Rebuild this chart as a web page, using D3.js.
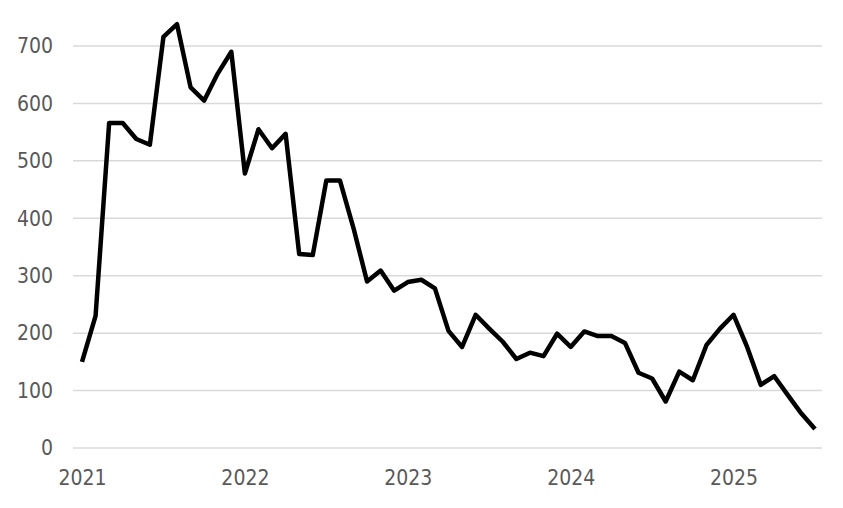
<!DOCTYPE html>
<html>
<head>
<meta charset="utf-8">
<script src="https://cdn.jsdelivr.net/npm/d3@7"></script>
<style>
  body { margin: 0; background: #fff; }
  svg text { font-family: "DejaVu Sans Condensed", "DejaVu Sans", sans-serif; fill: #595959; }
</style>
</head>
<body>
<svg id="chart" width="843" height="508"></svg>
<script>
// monthly values, Jan 2021 .. Jul 2025
const values2021 = [150, 230, 566, 566, 538, 528, 716, 738, 628, 605, 652, 690];
const values2022 = [478, 555, 522, 547, 338, 336, 466, 466, 383, 290, 309, 274];
const values2023 = [289, 293, 278, 204, 176, 232, 208, 185, 155, 166, 160, 199];
const values2024 = [176, 203, 195, 195, 183, 131, 121, 81, 133, 118, 179, 208];
const values2025 = [232, 176, 110, 125, 92, 60, 33];
const yearLabels = ["2021", "2022", "2023", "2024", "2025"];
const yTicks = [0, 100, 200, 300, 400, 500, 600, 700];

const data = [...values2021, ...values2022, ...values2023, ...values2024, ...values2025]
  .map((v, i) => ({ i, v }));

const svg = d3.select("#chart");
const gridLeft = 73, gridRight = 822;

const x = d3.scaleLinear().domain([0, data.length - 1]).range([82, 815]);
const y = d3.scaleLinear().domain([0, 700]).range([448, 46]);

// gridlines
svg.append("g")
  .selectAll("line")
  .data(yTicks)
  .join("line")
  .attr("x1", gridLeft)
  .attr("x2", gridRight)
  .attr("y1", d => y(d))
  .attr("y2", d => y(d))
  .attr("stroke", "#d9d9d9")
  .attr("stroke-width", 1.5);

// y axis labels
const yAxis = d3.axisLeft(y).tickValues(yTicks).tickSize(0).tickPadding(0);
const yG = svg.append("g").attr("transform", "translate(53,0)").call(yAxis);
yG.select(".domain").remove();
yG.selectAll("text").attr("font-size", 21).attr("fill", "#595959");

// x axis labels (one per January)
const xAxis = d3.axisBottom(x)
  .tickValues(yearLabels.map((d, k) => k * 12))
  .tickFormat((d, k) => yearLabels[k])
  .tickSize(0)
  .tickPadding(0);
const xG = svg.append("g").attr("transform", "translate(0,470)").call(xAxis);
xG.select(".domain").remove();
xG.selectAll("text").attr("font-size", 21).attr("fill", "#595959").attr("dy", "0.71em");

svg.selectAll(".tick text").attr("font-family", null);

// line
const lineGen = d3.line().x(d => x(d.i)).y(d => y(d.v));
svg.append("path")
  .datum(data)
  .attr("d", lineGen)
  .attr("fill", "none")
  .attr("stroke", "#000")
  .attr("stroke-width", 4.5)
  .attr("stroke-linejoin", "round");
</script>
</body>
</html>
